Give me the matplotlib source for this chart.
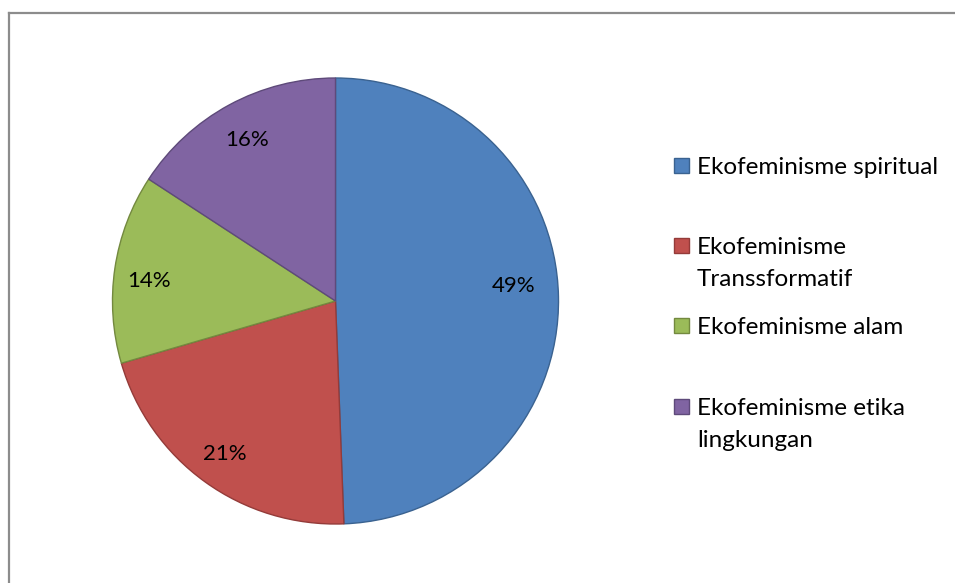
import matplotlib
matplotlib.use("Agg")
import matplotlib.pyplot as plt
from matplotlib.patches import Rectangle
from matplotlib.lines import Line2D

labels = ["Ekofeminisme spiritual", "Ekofeminisme\nTranssformatif",
          "Ekofeminisme alam", "Ekofeminisme etika\nlingkungan"]
values = [49.4, 21.1, 13.7, 15.8]
colors = ["#4F81BD", "#C0504D", "#9BBB59", "#8064A2"]
edges = ["#3A6290", "#943B39", "#73893F", "#5E4A7A"]

# small layout nudges for the percentage labels (data units, radius = 1)
label_nudge = [(0.0, 0.052), (-0.030, -0.038), (-0.045, -0.029), (-0.016, 0.017)]

plt.rcParams['font.family'] = ['Lato', 'DejaVu Sans']

W, H = 955, 583
fig = plt.figure(figsize=(W / 100, H / 100), dpi=100)

cx, cy, r = 335.5, 301, 223
ax = fig.add_axes([(cx - r) / W, (H - cy - r) / H, 2 * r / W, 2 * r / H])
wedges, texts, autotexts = ax.pie(values, colors=colors, startangle=90, counterclock=False,
                                  autopct='%1.0f%%', pctdistance=0.80,
                                  wedgeprops=dict(linewidth=1.0),
                                  textprops=dict(fontsize=16, color='black'))
for w, ec in zip(wedges, edges):
    w.set_edgecolor(ec)
for t, (dx, dy) in zip(autotexts, label_nudge):
    x, y = t.get_position()
    t.set_position((x + dx, y + dy))
ax.set_xlim(-1, 1)
ax.set_ylim(-1, 1)
ax.set_aspect('equal')
ax.axis('off')

# border (left and top visible)
fig.add_artist(Line2D([9 / W, 9 / W], [0, 1 - 13 / H], color='#8C8C8C', lw=1.6, transform=fig.transFigure))
fig.add_artist(Line2D([9 / W, 1], [1 - 13 / H, 1 - 13 / H], color='#8C8C8C', lw=1.6, transform=fig.transFigure))

# legend
ys = [165, 245, 325, 406]
fs = 17.5
cap = fs * 100 / 72 * 0.7165
s = 15
for lab, c, ec, y in zip(labels, colors, edges, ys):
    fig.add_artist(Rectangle((674 / W, (H - y - s / 2) / H), s / W, s / H,
                             facecolor=c, edgecolor=ec, lw=1.0, transform=fig.transFigure))
    for i, line in enumerate(lab.split("\n")):
        base = y + cap / 2 + i * 32
        fig.text(697 / W, (H - base) / H, line, fontsize=fs, va='baseline', ha='left',
                 transform=fig.transFigure)

fig.savefig("out.png", dpi=100)
